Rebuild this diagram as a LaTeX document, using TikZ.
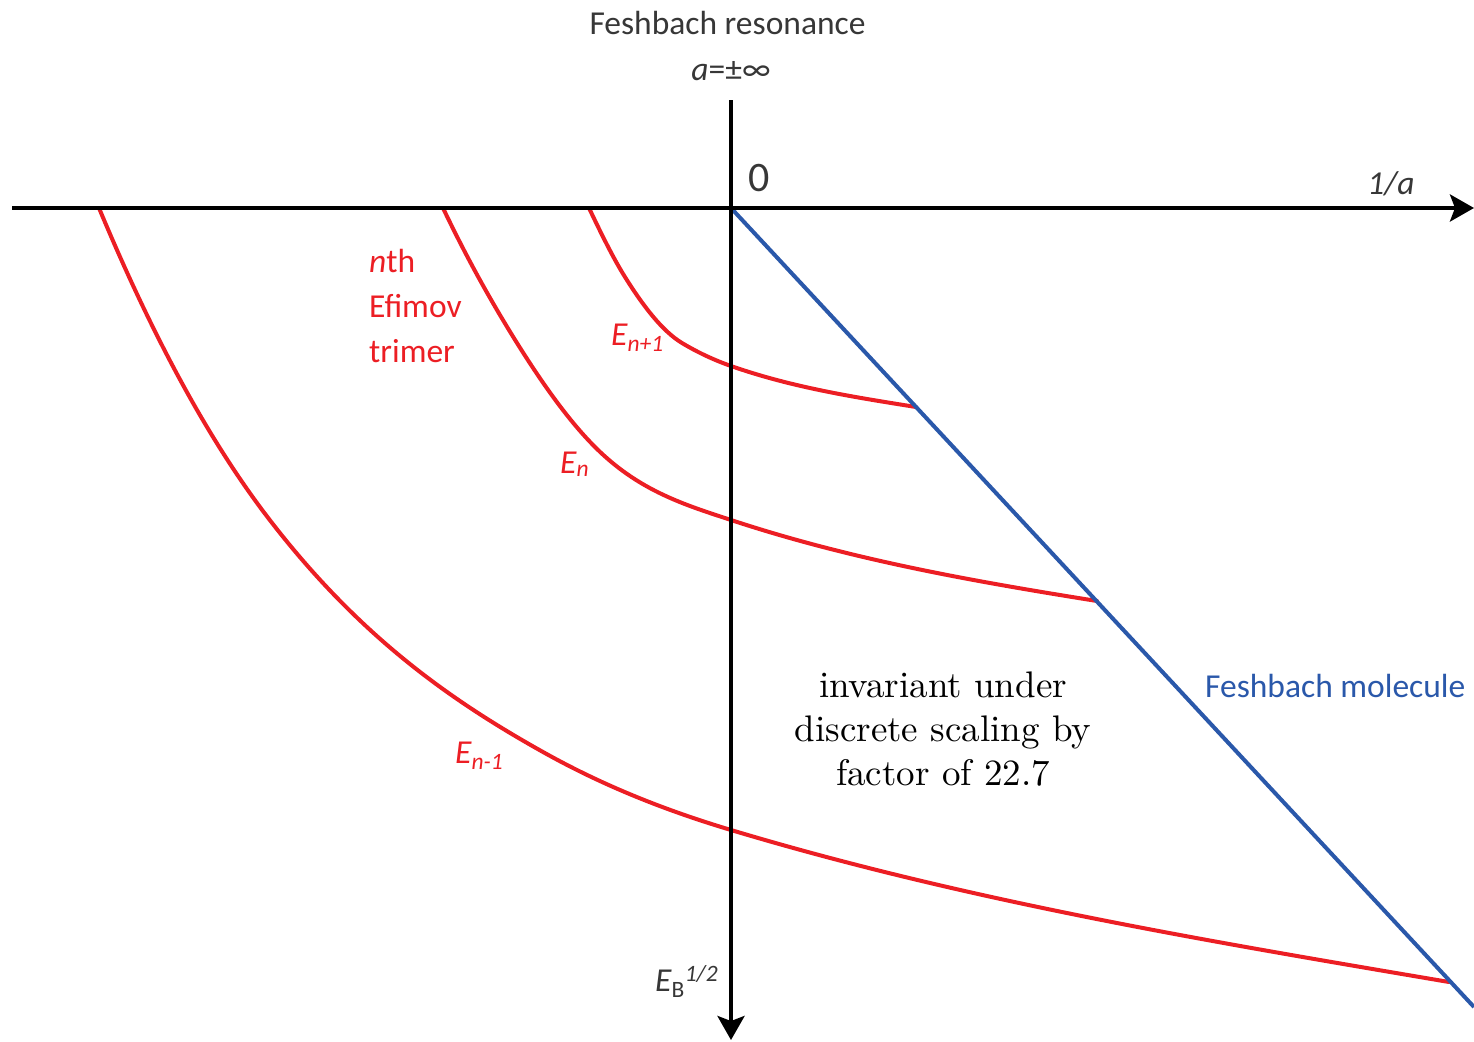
\documentclass[tikz,border=0pt]{standalone}
\usepackage{fontspec}
\newfontfamily\cfont{Carlito}
\newfontfamily\lmten{lmroman10-regular.otf}
\usetikzlibrary{arrows.meta}
\definecolor{efred}{RGB}{236,30,36}
\definecolor{fblue}{RGB}{42,88,170}
\definecolor{lblgray}{RGB}{55,55,55}
\tikzset{
  axisline/.style={line width=4pt, black, -{Stealth[length=24pt,width=27pt,inset=5pt]}},
  redcurve/.style={line width=4pt, efred, line join=round, line cap=round},
  blueline/.style={line width=4pt, fblue},
  lbl/.style={inner sep=0pt, font=\cfont\fontsize{33.5}{40}\selectfont},
  graylbl/.style={lbl, text=lblgray, anchor=base},
  redlbl/.style={lbl, text=efred, anchor=base west},
  bluelbl/.style={lbl, text=fblue, anchor=base west},
  midtext/.style={inner sep=0pt, anchor=base, text=black, font=\lmten\fontsize{37}{44}\selectfont}
}
\begin{document}
\begin{tikzpicture}[x=1pt,y=-1pt]
\useasboundingbox (0,0) rectangle (1474,1041);
\coordinate (O) at (731,208);
\coordinate (xl) at (12,208);
\coordinate (xr) at (1474,208);
\coordinate (yt) at (731,100);
\coordinate (yb) at (731,1040);
\coordinate (bend) at (1474,1007);

% red curves (E_{n+1}, E_n, E_{n-1})
\draw[redcurve] (589,208)
  .. controls (601,233.2) and (613,257.8) .. (625,277)
  .. controls (644,307.4) and (663,331.6) .. (682,343)
  .. controls (698.33,352.8) and (714.67,360.28) .. (731,366)
  .. controls (792.67,387.6) and (854.33,397.13) .. (916,407);
\draw[redcurve] (443,208)
  .. controls (467.67,259.8) and (492.33,303.53) .. (517,343)
  .. controls (543,384.6) and (569,421) .. (595,447)
  .. controls (619.33,471.33) and (643.67,486.05) .. (668,497)
  .. controls (689,506.45) and (710,513.07) .. (731,520)
  .. controls (853,560.26) and (975,581.48) .. (1097,601);
\draw[redcurve] (99,208)
  .. controls (155.67,344) and (212.33,445.33) .. (269,519)
  .. controls (360.33,637.73) and (451.67,700.85) .. (543,752)
  .. controls (605.67,787.09) and (668.33,811.2) .. (731,830)
  .. controls (970.33,901.8) and (1209.67,941.31) .. (1449,982);

% blue line
\draw[blueline] (O) -- (bend);

% axes
\draw[axisline] (xl) -- (xr);
\draw[axisline] (yt) -- (yb);

% labels
\node[graylbl] (fr) at (727.5,35) {Feshbach resonance};
\node[graylbl] (ainf) at (731,80) {\itshape a\/\upshape=±∞};
\node[graylbl, font=\cfont\fontsize{42}{48}\selectfont] (zero) at (759,191) {0};
\node[graylbl] (inva) at (1391,194) {\itshape 1/a};
\node[graylbl, anchor=base west] (eb) at (655,991) {\itshape E\upshape\textsubscript{B}\textsuperscript{\itshape 1/2}};

\node[redlbl] (nth) at (369,272) {\itshape n\upshape th};
\node[redlbl] (efi) at (369,317) {Efimov};
\node[redlbl] (tri) at (369,362) {trimer};
\node[redlbl] (enp) at (611,345) {\itshape E\textsubscript{n+1}};
\node[redlbl] (en) at (560,473) {\itshape E\textsubscript{n}};
\node[redlbl] (enm) at (455,763) {\itshape E\textsubscript{n-1}};

\node[bluelbl] (fm) at (1205,697) {Feshbach molecule};

\node[midtext] (m1) at (943,697) {invariant under};
\node[midtext] (m2) at (943,741) {discrete scaling by};
\node[midtext] (m3) at (943,785) {factor of 22.7};
\end{tikzpicture}
\end{document}
